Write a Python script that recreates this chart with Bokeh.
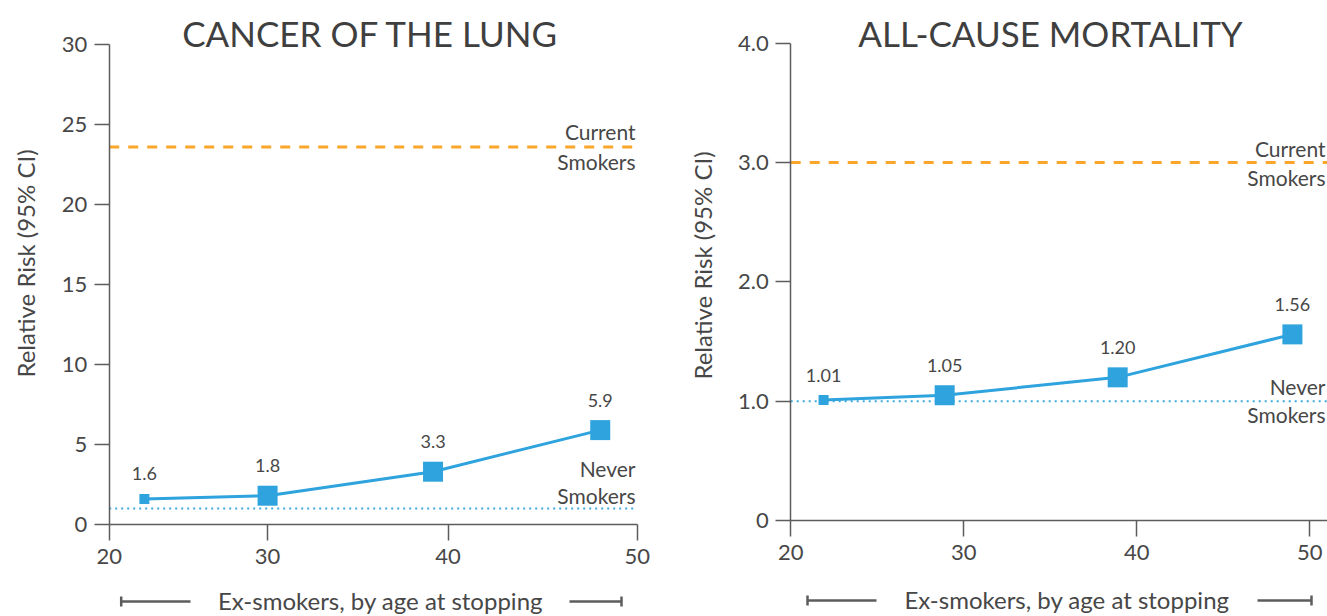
import math
from bokeh.plotting import figure
from bokeh.layouts import row
from bokeh.models import Range1d, FixedTicker, ColumnDataSource
from bokeh.core.properties import value
from bokeh.embed import file_html
from bokeh.resources import INLINE

# ---------------- data ----------------
lung_title = "CANCER OF THE LUNG"
lung_ages = [22.0, 29.0, 38.4, 47.9]
lung_rr = [1.6, 1.8, 3.3, 5.9]
lung_labels = ["1.6", "1.8", "3.3", "5.9"]
lung_current = 23.6
lung_never = 1.0
lung_yticks = [0, 5, 10, 15, 20, 25, 30]
lung_ytick_labels = ["0", "5", "10", "15", "20", "25", "30"]
lung_xtick_pos = [20, 29, 39.25, 50]

all_title = "ALL-CAUSE MORTALITY"
all_ages = [21.9, 28.9, 38.9, 49.0]
all_rr = [1.01, 1.05, 1.20, 1.56]
all_labels = ["1.01", "1.05", "1.20", "1.56"]
all_current = 3.0
all_never = 1.0
all_yticks = [0, 1, 2, 3, 4]
all_ytick_labels = ["0", "1.0", "2.0", "3.0", "4.0"]
all_xtick_pos = [20, 30, 40, 50]

xtick_labels = ["20", "30", "40", "50"]
marker_sizes = [10, 20, 20, 20]
ylabel_text = "Relative Risk (95% CI)"
xlabel_text = "Ex-smokers, by age at stopping"
current_text = ["Current", "Smokers"]
never_text = ["Never", "Smokers"]

# ---------------- style ----------------
FONT = "Lato"
TXT = "#474747"
AXC = "#5c5c5c"
BLUE = "#2EA3DD"
ORANGE = "#F9A62B"
DOTC = "#3DA9DF"


def panel(width, height, geo, xt, yt, ytl, ages, rr, labels, current, never, xaxis_end):
    # geo: pixel geometry of the plotting area (x0 px, px per x unit, y0 px, px per y unit)
    x0px, xpu, y0px, ypu = geo
    X = lambda px: 20 + (px - x0px) / xpu          # pixel -> x data
    Y = lambda py: (y0px - py) / ypu               # pixel -> y data

    p = figure(width=width, height=height, output_backend="svg",
               toolbar_location=None,
               x_range=Range1d(X(0), X(width)), y_range=Range1d(Y(height), Y(0)),
               min_border=0)
    p.outline_line_color = None
    p.grid.visible = False
    p.background_fill_color = "white"
    p.border_fill_color = "white"

    for ax in (p.xaxis[0], p.yaxis[0]):
        ax.axis_line_color = AXC
        ax.axis_line_width = 1.5
        ax.major_tick_line_color = AXC
        ax.major_tick_line_width = 1.5
        ax.major_tick_in = 0
        ax.minor_tick_line_color = None
        ax.major_label_text_font = FONT
        ax.major_label_text_font_size = "22px"
        ax.major_label_text_color = TXT
    xa, ya = p.xaxis[0], p.yaxis[0]
    xa.fixed_location = 0
    xa.bounds = (20, xaxis_end)
    xa.ticker = FixedTicker(ticks=xt)
    xa.major_label_overrides = {t: l for t, l in zip(xt, xtick_labels)}
    xa.major_tick_out = 16
    xa.major_label_standoff = 8
    ya.fixed_location = 20
    ya.bounds = (yt[0], yt[-1])
    ya.ticker = FixedTicker(ticks=yt)
    ya.major_label_overrides = {t: l for t, l in zip(yt, ytl)}
    ya.major_tick_out = 15
    ya.major_label_standoff = 7

    # reference lines
    p.segment(x0=[20], y0=[current], x1=[xaxis_end], y1=[current], line_color=ORANGE,
              line_width=3, line_dash="10 9")
    p.segment(x0=[20], y0=[never], x1=[xaxis_end], y1=[never], line_color=DOTC,
              line_width=2, line_dash="2 4")

    src = ColumnDataSource(dict(x=ages, y=rr, t=labels, s=marker_sizes,
                                off=[-(s / 2 + 20) for s in marker_sizes]))
    p.line("x", "y", source=src, line_color=BLUE, line_width=3)
    p.scatter("x", "y", source=src, marker="square", size="s",
              fill_color=BLUE, line_color=None)
    p.text("x", "y", text="t", source=src, y_offset="off", text_align="center",
           text_baseline="middle", text_font=value(FONT), text_font_size="18px",
           text_color=TXT)
    return p, X, Y


def decorate(p, X, Y, title, title_px, ylab_px, xlab_px, bracket_px, cur_px,
             current, never, cur_offs, never_offs):
    txt_kw = dict(text_align="right", text_baseline="middle",
                  text_font=value(FONT), text_font_size="21px", text_color=TXT)
    p.text([X(cur_px)] * 2, [current] * 2, text=current_text, y_offset=cur_offs, **txt_kw)
    p.text([X(cur_px)] * 2, [never] * 2, text=never_text, y_offset=never_offs, **txt_kw)
    p.text([X(title_px[0])], [Y(title_px[1])], text=[title], text_align="center",
           text_baseline="middle", text_font=value(FONT), text_font_size="35px",
           text_color="#3f3f3f")
    p.text([X(ylab_px[0])], [Y(ylab_px[1])], text=[ylabel_text], angle=math.pi / 2,
           text_align="center", text_baseline="middle", text_font=value(FONT),
           text_font_size="24px", text_color=TXT)
    p.text([X(xlab_px[0])], [Y(xlab_px[1])], text=[xlabel_text], text_align="center",
           text_baseline="middle", text_font=value(FONT), text_font_size="24px",
           text_color=TXT)
    l0, l1, r0, r1, by = bracket_px
    xs0 = [X(l0), X(r0), X(l0), X(r1)]
    xs1 = [X(l1), X(r1), X(l0), X(r1)]
    ys0 = [Y(by), Y(by), Y(by - 5), Y(by - 5)]
    ys1 = [Y(by), Y(by), Y(by + 5), Y(by + 5)]
    p.segment(x0=xs0, y0=ys0, x1=xs1, y1=ys1, line_color=AXC, line_width=2.5)


# left panel: x 20 at px 108.7 (17.6 px/unit), y 0 at px 524 (16 px/unit)
p1, X1, Y1 = panel(660, 616, (108.7, 17.6, 524, 16.0), lung_xtick_pos, lung_yticks,
                   lung_ytick_labels, lung_ages, lung_rr, lung_labels, lung_current,
                   lung_never, 50)
decorate(p1, X1, Y1, lung_title, (370, 32), (25, 263), (380, 600),
         (120.7, 190, 569, 621, 601), 635, lung_current, lung_never,
         [-15, 15], [-40, -13])

# right panel (figure starts at page x 660): x 20 at px 130.2, 17.3 px/unit; y 0 at px 520, 119.3 px/unit
p2, X2, Y2 = panel(667, 616, (130.2, 17.3, 520, 119.3), all_xtick_pos, all_yticks,
                   all_ytick_labels, all_ages, all_rr, all_labels, all_current,
                   all_never, 20 + (667 - 130.2) / 17.3)
decorate(p2, X2, Y2, all_title, (390, 32), (42, 265), (406.5, 599),
         (147, 216, 597, 651, 600), 665, all_current, all_never,
         [-14, 15], [-15, 13])

layout = row(p1, p2)
open("out.html", "w").write(file_html(layout, INLINE))
